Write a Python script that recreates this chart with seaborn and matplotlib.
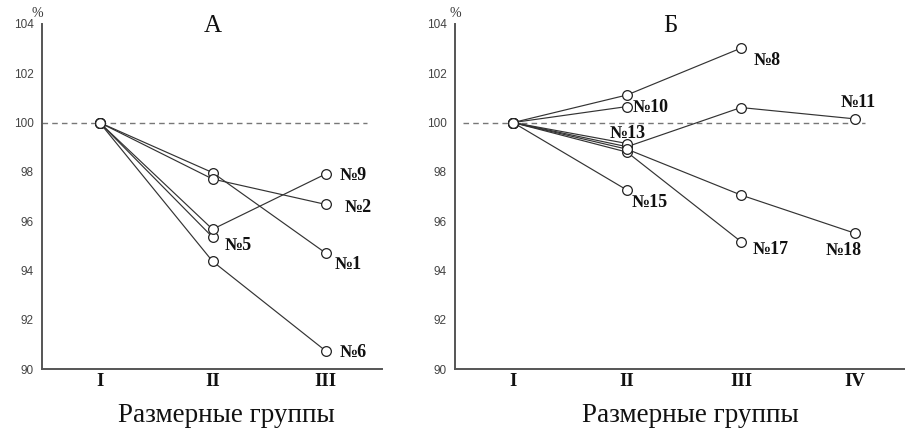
import matplotlib
matplotlib.use("Agg")
import matplotlib.pyplot as plt
import seaborn as sns
import pandas as pd

# ---------------- data ----------------
cats_A = ["I", "II", "III"]
cats_B = ["I", "II", "III", "IV"]

A_1 = [100, 97.97, 94.71]
A_2 = [100, 97.71, 96.68]
A_5 = [100, 95.35]
A_6 = [100, 94.37, 90.74]
A_9 = [100, 95.67, 97.91]

B_8 = [100, 101.12, 103.02]
B_10 = [100, 100.65]
B_11 = [100, 99.02, 100.61, 100.15]
B_13 = [100, 99.15]
B_15 = [100, 97.26]
B_17 = [100, 98.80, 95.17]
B_18 = [100, 98.92, 97.06, 95.51]

series_A = {"№1": A_1, "№2": A_2, "№5": A_5, "№6": A_6, "№9": A_9}
series_B = {"№8": B_8, "№10": B_10, "№11": B_11, "№13": B_13,
            "№15": B_15, "№17": B_17, "№18": B_18}

y_ticks = [90, 92, 94, 96, 98, 100, 102, 104]
xlabel = "Размерные группы"

# label placement (style only): offset in pixels from the last point, h-align
lab_A = {"№1": (9, -12, "left"), "№2": (19, -3, "left"), "№5": (12, -8, "left"),
         "№6": (14, -2, "left"), "№9": (14, -1, "left")}
lab_B = {"№8": (13, -12, "left"), "№10": (6, -1, "left"), "№11": (3, 16, "center"),
         "№13": (1, 10, "center"), "№15": (5, -12, "left"), "№17": (12, -8, "left"),
         "№18": (-11, -17, "center")}


def to_long(series):
    rows = []
    for name, vals in series.items():
        for i, v in enumerate(vals):
            rows.append({"series": name, "pos": i, "val": v})
    return pd.DataFrame(rows)


sns.set_style("white")
plt.rcParams["font.family"] = ["Liberation Serif", "DejaVu Serif"]

fig = plt.figure(figsize=(9.05, 4.3), dpi=100)
H = 430.0
W = 905.0
bottom = 1 - 369 / H
height = 345 / H
axA = fig.add_axes([42 / W, bottom, 340 / W, height])
axB = fig.add_axes([455 / W, bottom, 450 / W, height])

line_col = "#333333"
spine_col = "#555555"


def draw(ax, series, cats, labs, xlim, ref_span, title, title_x, pct_x, xl_x):
    df = to_long(series)
    ax.axhline(100, xmin=ref_span[0], xmax=ref_span[1], color="#777777",
               lw=1.0, ls=(0, (4, 3)), zorder=1)
    sns.lineplot(data=df, x="pos", y="val", units="series", estimator=None,
                 color=line_col, linewidth=0.85, marker="o", markersize=7,
                 markerfacecolor="white", markeredgecolor="#222222",
                 markeredgewidth=0.9, ax=ax, legend=False, zorder=3)
    for name, vals in series.items():
        dx, dy, ha = labs[name]
        ax.annotate(name, xy=(len(vals) - 1, vals[-1]), xytext=(dx, dy),
                    textcoords="offset pixels", ha=ha, va="center",
                    fontsize=13, fontweight="bold", color="#111111",
                    family=["Liberation Serif", "DejaVu Serif"], zorder=5)
    ax.set_xlim(*xlim)
    ax.set_ylim(90, 104)
    ax.set_yticks(y_ticks)
    ax.set_yticklabels([str(t) for t in y_ticks], fontsize=8.5, color="#444444",
                       family=["Liberation Sans", "DejaVu Sans"])
    n = len(cats)
    bounds = [i + 0.5 for i in range(n - 1)]
    ax.set_xticks(bounds)
    ax.set_xticklabels([""] * len(bounds))
    ax.set_xticks(list(range(n)), minor=True)
    ax.set_xticklabels(cats, minor=True, fontsize=13.5, fontweight="bold",
                       color="#111111")
    ax.tick_params(axis="x", which="minor", length=0, pad=3)
    ax.tick_params(axis="x", which="major", length=4, width=1, color=spine_col,
                   direction="out")
    ax.tick_params(axis="y", length=4, width=1, color=spine_col, direction="out", pad=2)
    for s in ["top", "right"]:
        ax.spines[s].set_visible(False)
    for s in ["left", "bottom"]:
        ax.spines[s].set_color(spine_col)
        ax.spines[s].set_linewidth(1.4)
    ax.set_ylabel("")
    ax.set_xlabel(xlabel, fontsize=19.5, color="#111111")
    ax.xaxis.set_label_coords(xl_x, -0.099)
    ax.text(title_x, 0.977, title, transform=ax.transAxes, ha="center",
            va="baseline", fontsize=18, color="#111111")
    ax.text(pct_x, 1.03, "%", transform=ax.transAxes, ha="center", va="center",
            fontsize=10, color="#333333")
    ax.patch.set_alpha(0)


draw(axA, series_A, cats_A, lab_A, (-0.51, 2.5), (0.0, 0.956), "А", 0.503, -0.015, 0.541)
draw(axB, series_B, cats_B, lab_B, (-0.51, 3.44), (0.018, 0.911), "Б", 0.478, 0.0, 0.524)

fig.savefig("out.png", dpi=100)
